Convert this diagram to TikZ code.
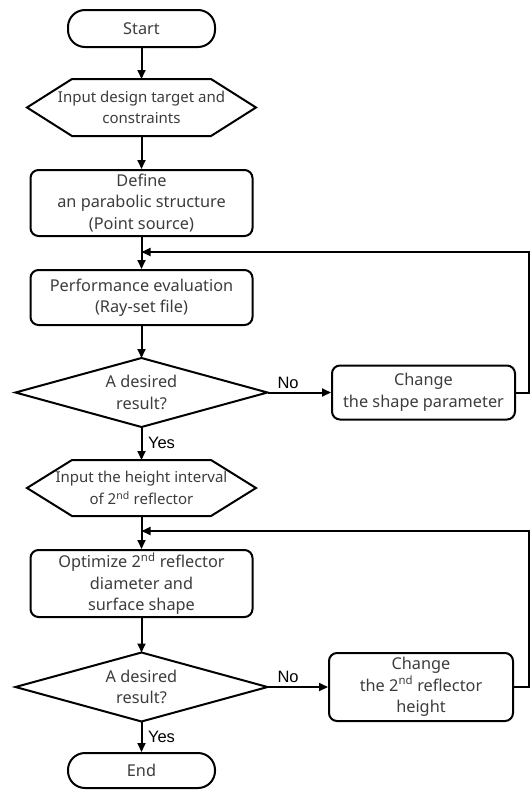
\documentclass[tikz,border=0pt]{standalone}
\usepackage{fontspec}
\setmainfont{Noto Sans}
\newfontfamily\labelfont{Liberation Sans}
\usetikzlibrary{arrows.meta}
\definecolor{txt}{HTML}{3c3c3c}
\begin{document}
\begin{tikzpicture}[x=1pt,y=-1pt,
  line width=2pt,
  arr/.style={-{Triangle[length=9pt,width=8pt]}},
  txtnode/.style={text=txt, font=\fontsize{16.3}{21.5}\selectfont, align=center, inner sep=0pt},
  term/.style={txtnode, draw, rounded corners=17pt, minimum width=147pt},
  box/.style={txtnode, draw, rounded corners=8pt},
  shapebox/.style={txtnode, draw=none},
  hexbox/.style={txtnode, draw=none, font=\fontsize{15}{21.5}\selectfont},
  lab/.style={font=\labelfont\fontsize{16.5}{18}\selectfont, inner sep=0pt}
]
\useasboundingbox (0,0) rectangle (530,790);

\node[term, minimum height=37pt] (start) at (141.5,28.5) {Start};
\node[hexbox, minimum width=227pt, minimum height=55pt] (hex1) at (141.5,107.5) {Input design target and\\constraints};
\node[box, minimum width=222pt, minimum height=66pt] (box1) at (141.5,203) {Define\\an parabolic structure\\(Point source)};
\node[box, minimum width=222pt, minimum height=55pt] (box2) at (141.5,297.5) {Performance evaluation\\(Ray-set file)};
\node[shapebox, minimum width=250pt, minimum height=67pt] (dia1) at (141.5,392.5) {A desired\\result?};
\node[box, minimum width=183pt, minimum height=54pt] (ch1) at (423.5,392.5) {Change\\the shape parameter};
\node[hexbox, minimum width=227pt, minimum height=54pt] (hex2) at (141.5,488) {Input the height interval\\of 2\textsuperscript{nd} reflector};
\node[box, minimum width=222pt, minimum height=67pt] (box3) at (141.5,583.5) {Optimize 2\textsuperscript{nd} reflector\\diameter and\\surface shape};
\node[shapebox, minimum width=250pt, minimum height=67pt] (dia2) at (141.5,687) {A desired\\result?};
\node[box, minimum width=184pt, minimum height=68pt] (ch2) at (421,687) {Change\\the 2\textsuperscript{nd} reflector\\height};
\node[term, minimum height=35pt] (end) at (141.5,770.5) {End};

% shapes
\draw (hex1.west) -- ([xshift=45pt]hex1.north west) -- ([xshift=-45pt]hex1.north east) -- (hex1.east) -- ([xshift=-45pt]hex1.south east) -- ([xshift=45pt]hex1.south west) -- cycle;
\draw (hex2.west) -- ([xshift=45pt]hex2.north west) -- ([xshift=-45pt]hex2.north east) -- (hex2.east) -- ([xshift=-45pt]hex2.south east) -- ([xshift=45pt]hex2.south west) -- cycle;
\draw (dia1.west) -- (dia1.north) -- (dia1.east) -- (dia1.south) -- cycle;
\draw (dia2.west) -- (dia2.north) -- (dia2.east) -- (dia2.south) -- cycle;

% connectors
\draw[arr] (start) -- (hex1);
\draw[arr] (hex1) -- (box1);
\draw[arr] (box1) -- (box2);
\draw[arr] (box2) -- (dia1.north);
\draw[arr] (dia1.south) -- (hex2);
\draw[arr] (hex2) -- (box3);
\draw[arr] (box3) -- (dia2.north);
\draw[arr] (dia2.south) -- (end);
\draw[arr] (dia1.east) -- (ch1);
\draw[arr] (dia2.east) -- (ch2);

\coordinate (fb1) at (141.5,252);
\coordinate (fb2) at (141.5,531);
\draw[arr] (ch1.east) -- ++(13,0) |- (fb1);
\draw[arr] (ch2.east) -- ++(15,0) |- (fb2);

% labels
\node[lab, anchor=south west] (no1) at ([xshift=9pt,yshift=3pt]dia1.east) {No};
\node[lab, anchor=south west] (no2) at ([xshift=9pt,yshift=3pt]dia2.east) {No};
\node[lab, anchor=west] (yes1) at (147,443) {Yes};
\node[lab, anchor=west] (yes2) at (147,737) {Yes};
\end{tikzpicture}
\end{document}
